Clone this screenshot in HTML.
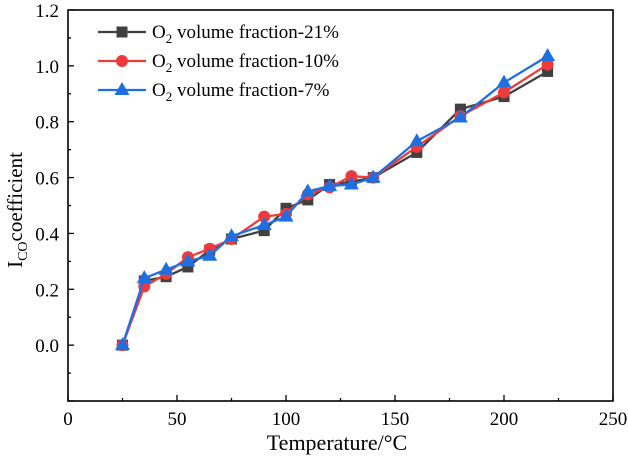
<!DOCTYPE html>
<html><head><meta charset="utf-8"><style>
html,body{margin:0;padding:0;background:#fff;}
svg{display:block;font-family:"Liberation Serif",serif;}
</style></head><body>
<svg id="c" width="628" height="461" viewBox="0 0 628 461">
<g id="axes"></g><g id="series"></g><g id="legend"></g>
</svg>
<script>
const xTicks=[0,50,100,150,200,250];
const yTicks=[0.0,0.2,0.4,0.6,0.8,1.0,1.2];
const temps=[25,35,45,55,65,75,90,100,110,120,130,140,160,180,200,220];
const s21=[0,0.23,0.245,0.28,0.34,0.38,0.41,0.49,0.52,0.575,0.585,0.60,0.69,0.845,0.89,0.98];
const s10=[0,0.21,0.255,0.315,0.345,0.38,0.46,0.47,0.54,0.565,0.605,0.60,0.71,0.82,0.905,1.005];
const s7=[0,0.24,0.27,0.30,0.32,0.39,0.43,0.46,0.55,0.57,0.575,0.60,0.73,0.815,0.94,1.035];
const L=68,R=613,T=10,B=401,X0=0,X1=250,Y0=-0.2,Y1=1.2;
const sx=v=>L+(v-X0)/(X1-X0)*(R-L);
const sy=v=>B-(v-Y0)/(Y1-Y0)*(B-T);
const NS="http://www.w3.org/2000/svg";
function mk(tag,attrs,parent){const e=document.createElementNS(NS,tag);for(const k in attrs)e.setAttribute(k,attrs[k]);parent.appendChild(e);return e;}
const ax=document.getElementById('axes');
let fr=mk('rect',{x:L,y:T,width:R-L,height:B-T,fill:'none',stroke:'#000','stroke-width':1.6},ax);


for(let v=X0;v<=X1;v+=25){const major=v%50===0;mk('line',{x1:sx(v),x2:sx(v),y1:B,y2:B-(major?6:3),stroke:'#000','stroke-width':1.3},ax);}
xTicks.forEach(v=>{const t=mk('text',{x:sx(v),y:B+24,'text-anchor':'middle','font-size':19},ax);t.textContent=v;

});
for(let i=-2;i<=12;i++){const v=i/10;const major=i%2===0;mk('line',{x1:L,x2:L+(major?6:3),y1:sy(v),y2:sy(v),stroke:'#000','stroke-width':1.3},ax);}
yTicks.forEach(v=>{const t=mk('text',{x:L-9,y:sy(v)+7,'text-anchor':'end','font-size':19},ax);t.textContent=v.toFixed(1);

});
let xt=mk('text',{x:337,y:450,'text-anchor':'middle','font-size':22},ax);xt.textContent='Temperature/°C';


let yt=mk('text',{transform:'translate(22,210) rotate(-90)','text-anchor':'middle','font-size':21},ax);
yt.innerHTML='I<tspan font-size="14" dy="5">CO</tspan><tspan dy="-5">coefficient</tspan>';


const sg=document.getElementById('series');
function marker(g,type,x,y,col){
 if(type==='sq')return mk('rect',{x:x-5.5,y:y-5.5,width:11,height:11,fill:col},g);
 if(type==='ci')return mk('circle',{cx:x,cy:y,r:6,fill:col},g);
 return mk('polygon',{points:`${x},${y-8} ${x+7.5},${y+5} ${x-7.5},${y+5}`,fill:col},g);
}
const series=[[s21,'#404040','sq','series-21pct'],[s10,'#ee3a3a','ci','series-10pct'],[s7,'#1f6fe0','tr','series-7pct']];
series.forEach(([d,col,m,name])=>{
 const g=mk('g',{},sg);
 
 
 mk('polyline',{points:temps.map((t,i)=>sx(t)+','+sy(d[i])).join(' '),fill:'none',stroke:col,'stroke-width':2.3},g);
 temps.forEach((t,i)=>{const p=marker(g,m,sx(t),sy(d[i]),col);
  
  });
});
const lg=document.getElementById('legend');
const labels=['volume fraction-21%',' volume fraction-10%',' volume fraction-7%'];
series.forEach(([d,col,m],i)=>{
 const y=32+i*29;
 const g=mk('g',{},lg);
 
 
 mk('line',{x1:98,x2:146,y1:y,y2:y,stroke:col,'stroke-width':2.3},g);
 marker(g,m,122,y,col);
 const t=mk('text',{x:152,y:y+6,'font-size':19},g);
 t.innerHTML='O<tspan font-size="13" dy="5">2</tspan><tspan dy="-5"> '+labels[i]+'</tspan>';
});
</script>
</body></html>
